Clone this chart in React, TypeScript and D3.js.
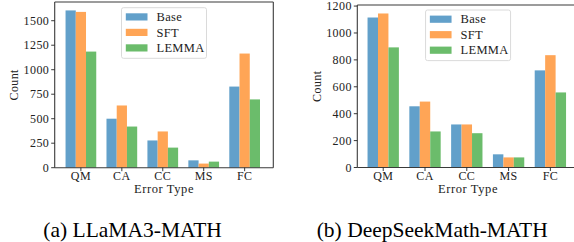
import React from "react";
import * as d3 from "d3";

const categories = ["QM", "CA", "CC", "MS", "FC"];
const seriesNames = ["Base", "SFT", "LEMMA"];
const llamaBase = [1605, 500, 278, 75, 828];
const llamaSFT = [1590, 635, 370, 42, 1165];
const llamaLEMMA = [1185, 420, 205, 62, 697];
const dsBase = [1115, 455, 320, 98, 722];
const dsSFT = [1145, 490, 320, 75, 835];
const dsLEMMA = [893, 268, 255, 75, 558];
const llamaTicks = [0, 250, 500, 750, 1000, 1250, 1500];
const dsTicks = [0, 200, 400, 600, 800, 1000, 1200];
const colors = ["#62a0ca", "#ffa556", "#6bbc6b"];

const SERIF = "'Liberation Serif'";

type PanelProps = {
  series: number[][];
  ticks: number[];
  xDomain: [number, number];
  xRange: [number, number];
  yDomain: [number, number];
  yRange: [number, number];
  ylabelX: number;
  legendTop: number;
};

function Panel(p: PanelProps) {
  const x = d3.scaleLinear().domain(p.xDomain).range(p.xRange);
  const y = d3.scaleLinear().domain(p.yDomain).range(p.yRange);
  const [x0, x1] = p.xRange;
  const [yb, yt] = p.yRange;
  const w = 0.25;
  const cx = (x0 + x1) / 2;
  const legW = 85;
  const legX = cx - legW / 2;
  const legY = p.legendTop;
  const ts = { fontFamily: SERIF, letterSpacing: "0.4px" };
  return (
    <g>
      {p.series.map((vals, si) =>
        vals.map((v, ci) => {
          const left = x(ci + (si - 1) * w - w / 2);
          const right = x(ci + (si - 1) * w + w / 2);
          return (
            <rect
              key={`${si}-${ci}`}
              x={left}
              y={y(v)}
              width={right - left}
              height={y(0) - y(v)}
              fill={colors[si]}
            />
          );
        })
      )}
      <g stroke="#3a3a3a" strokeWidth={1.1} fill="none">
        <line x1={x0} x2={x0} y1={yt} y2={yb} />
        <line x1={x0} x2={x1} y1={yb} y2={yb} />
        <line x1={x0} x2={x1} y1={yt} y2={yt} />
        <line x1={x1} x2={x1} y1={yt} y2={yb} />
      </g>
      {p.ticks.map((t) => (
        <g key={t}>
          <line x1={x0 - 3.5} x2={x0} y1={y(t)} y2={y(t)} stroke="#222" strokeWidth={0.9} />
          <text x={x0 - 5.5} y={y(t) + 4} textAnchor="end" style={ts} fontSize={12} fill="#222">
            {t}
          </text>
        </g>
      ))}
      {categories.map((c, i) => (
        <g key={c}>
          <line x1={x(i)} x2={x(i)} y1={yb} y2={yb + 3.5} stroke="#222" strokeWidth={0.9} />
          <text x={x(i)} y={yb + 12.5} textAnchor="middle" style={ts} fontSize={12} fill="#222">
            {c}
          </text>
        </g>
      ))}
      <text x={cx} y={yb + 25} textAnchor="middle" style={{ fontFamily: SERIF, letterSpacing: "0.6px" }} fontSize={12.5} fill="#222">
        Error Type
      </text>
      <text
        transform={`translate(${p.ylabelX + 4},${(yt + yb) / 2}) rotate(-90)`}
        textAnchor="middle"
        style={ts}
        fontSize={12}
        fill="#222"
      >
        Count
      </text>
      <rect
        x={legX}
        y={legY}
        width={legW}
        height={50.6}
        rx={2}
        fill="#fff"
        fillOpacity={0.8}
        stroke="#d6d6d6"
        strokeWidth={0.9}
      />
      {seriesNames.map((n, i) => (
        <g key={n}>
          <rect x={legX + 4.3} y={legY + 5.6 + i * 15.5} width={21.7} height={7.2} fill={colors[i]} />
          <text x={legX + 35} y={legY + 13.4 + i * 15.5} style={{ fontFamily: SERIF, letterSpacing: "0.3px" }} fontSize={12.5} fill="#222">
            {n}
          </text>
        </g>
      ))}
    </g>
  );
}

export default function App() {
  return (
    <svg width={574} height={242} style={{ position: "absolute", left: 0, top: 0, background: "#fff" }}>
      <rect x={0} y={0} width={574} height={242} fill="#fff" />
      <Panel
        series={[llamaBase, llamaSFT, llamaLEMMA]}
        ticks={llamaTicks}
        xDomain={[-0.64, 4.7]}
        xRange={[54.7, 273.3]}
        yDomain={[0, 1691]}
        yRange={[167.7, 2]}
        ylabelX={14}
        legendTop={7.7}
      />
      <Panel
        series={[dsBase, dsSFT, dsLEMMA]}
        ticks={dsTicks}
        xDomain={[-0.62, 4.68]}
        xRange={[357.3, 578.8]}
        yDomain={[0, 1208]}
        yRange={[167.5, 5]}
        ylabelX={317.3}
        legendTop={10}
      />
      <text x={43.3} y={237.3} style={{ fontFamily: SERIF }} fontSize={21.5} fill="#000">
        (a) LLaMA3-MATH
      </text>
      <text x={316.7} y={237.3} style={{ fontFamily: SERIF }} fontSize={21.5} fill="#000">
        (b) DeepSeekMath-MATH
      </text>
    </svg>
  );
}
